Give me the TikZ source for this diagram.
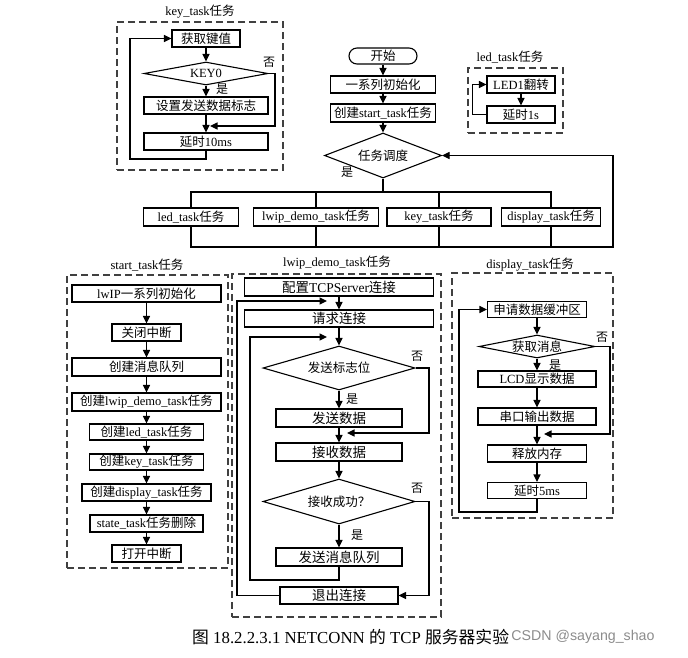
\documentclass[tikz,border=0pt]{standalone}
\usepackage{fontspec}
\setmainfont{Liberation Serif}
\newfontfamily\cjk{Noto Sans CJK SC}
\newfontfamily\wmfont{Liberation Sans}
\newcommand\zh[1]{{\cjk #1}}
\usetikzlibrary{arrows.meta,shapes.geometric}
\begin{document}
\begin{tikzpicture}[x=1pt,y=-1pt,
 every node/.style={font=\fontsize{12.5}{14}\selectfont},
 box/.style={draw,line width=1.1pt,inner sep=0pt,minimum height=17pt},
 bigt/.style={font=\fontsize{13.5}{15}\selectfont},
 dia/.style={draw,diamond,line width=1.1pt,inner sep=0pt},
 frame/.style={draw=black!75,line width=1.2pt,dash pattern=on 7pt off 4pt,inner sep=0pt},
 ln/.style={line width=1.1pt},
 arr/.style={line width=1.1pt,-{Triangle[length=7.5pt,width=7pt]}},
 lbl/.style={inner sep=0pt,font=\fontsize{12}{14}\selectfont\cjk},
 ttl/.style={inner sep=0pt}]
\useasboundingbox[fill=white] (0,0) rectangle (688,657);

% ---------- key_task ----------
\node[ttl] (tkey) at (200,12) {key\_task\zh{任务}};
\node[frame,minimum width=166pt,minimum height=148pt] (fkey) at (200,96) {};
\node[box,minimum width=68pt] (kget) at (206,38.5) {\zh{获取键值}};
\node[dia,minimum width=124pt,minimum height=23pt,shape aspect=5.4] (kdia) at (206,73.5) {KEY0};
\node[box,minimum width=124pt] (kset) at (206,105.5) {\zh{设置发送数据标志}};
\node[box,minimum width=124pt] (kdel) at (206,141.5) {\zh{延时}10ms};
\node[lbl] (kyes) at (222,89) {是};
\node[lbl] (kno) at (269,62) {否};
\coordinate (kno1) at (275,73.5);
\coordinate (kno2) at (210,126);
\coordinate (kbk) at (130,159);
\draw[arr] (kget) -- (kdia);
\draw[arr] (kdia) -- (kset);
\draw[arr] (kset) -- (kdel);
\draw[arr] (kdia.east) -- (kno1) |- (kno2);
\draw[arr] (kdel.south) |- (kbk) |- (kget.west);

% ---------- main flow ----------
\node[draw,line width=1.1pt,rounded corners=8pt,minimum width=68pt,minimum height=16pt,inner sep=0pt] (start) at (383,56) {\zh{开始}};
\node[box,minimum width=105pt] (init) at (383,84.5) {\zh{一系列初始化}};
\node[box,minimum width=105pt,minimum height=18pt] (cst) at (383,113) {\zh{创建}start\_task\zh{任务}};
\node[dia,minimum width=117pt,minimum height=45pt,shape aspect=2.6] (sch) at (383,155.5) {\zh{任务调度}};
\node[lbl] (syes) at (347,172) {是};
\draw[arr] (start) -- (init);
\draw[arr] (init) -- (cst);
\draw[arr] (cst) -- (sch);

\node[box,minimum width=95pt,minimum height=18pt] (mled) at (191,217) {led\_task\zh{任务}};
\node[box,minimum width=125pt,minimum height=18pt] (mlwip) at (316,217) {lwip\_demo\_task\zh{任务}};
\node[box,minimum width=104pt,minimum height=18pt] (mkey) at (439,217) {key\_task\zh{任务}};
\node[box,minimum width=99pt,minimum height=18pt] (mdisp) at (551,217) {display\_task\zh{任务}};
\coordinate (bus) at (383,192);
\coordinate (fb) at (613,247);
\draw[line width=2pt] (sch.south) -- (bus);
\draw[ln] (mled.north) |- (bus) -| (mdisp.north);
\draw[ln] (mlwip.north) -- (mlwip.north |- bus);
\draw[ln] (mkey.north) -- (mkey.north |- bus);
\draw[arr] (mled.south) |- (fb) |- (sch.east);
\draw[ln] (mlwip.south) -- (mlwip.south |- fb);
\draw[ln] (mkey.south) -- (mkey.south |- fb);
\draw[ln] (mdisp.south) -- (mdisp.south |- fb);

% ---------- led_task ----------
\node[ttl] (tled) at (510,57) {led\_task\zh{任务}};
\node[frame,minimum width=95pt,minimum height=65pt] (fled) at (515.5,100.5) {};
\node[box,minimum width=68pt] (led1) at (521,84.5) {LED1\zh{翻转}};
\node[box,minimum width=68pt] (ldel) at (521,114.5) {\zh{延时}1s};
\draw[arr] (led1) -- (ldel);
\draw[arr] (ldel.west) -- ++(-14,0) |- (led1.west);

% ---------- start_task ----------
\node[ttl] (tst) at (147,265) {start\_task\zh{任务}};
\node[frame,minimum width=161pt,minimum height=293pt] (fst) at (147.5,421.5) {};
\node[box,minimum width=149pt] (s1) at (146.5,293.5) {lwIP\zh{一系列初始化}};
\node[box,minimum width=69pt] (s2) at (146.5,332.5) {\zh{关闭中断}};
\node[box,minimum width=149pt,minimum height=18pt] (s3) at (146.5,367) {\zh{创建消息队列}};
\node[box,minimum width=149pt,minimum height=18pt] (s4) at (146.5,402) {\zh{创建}lwip\_demo\_task\zh{任务}};
\node[box,minimum width=114pt,minimum height=16pt] (s5) at (146.5,432) {\zh{创建}led\_task\zh{任务}};
\node[box,minimum width=114pt,minimum height=16pt] (s6) at (146.5,462) {\zh{创建}key\_task\zh{任务}};
\node[box,minimum width=129pt] (s7) at (146.5,492.5) {\zh{创建}display\_task\zh{任务}};
\node[box,minimum width=113pt] (s8) at (146.5,523.5) {state\_task\zh{任务删除}};
\node[box,minimum width=69pt] (s9) at (146.5,553.5) {\zh{打开中断}};
\foreach \a/\b in {s1/s2,s2/s3,s3/s4,s4/s5,s5/s6,s6/s7,s7/s8,s8/s9}
  \draw[arr] (\a) -- (\b);

% ---------- lwip_demo_task ----------
\node[ttl] (tlw) at (337,263) {lwip\_demo\_task\zh{任务}};
\node[frame,minimum width=209pt,minimum height=343pt] (flw) at (336.5,445.5) {};
\node[box,bigt,minimum width=189pt,minimum height=18pt] (l1) at (339,287) {\zh{配置}TCPServer\zh{连接}};
\node[box,bigt,minimum width=189pt] (l2) at (339,318.5) {\zh{请求连接}};
\node[dia,minimum width=152pt,minimum height=44pt,shape aspect=3.45] (ld1) at (339,368) {\zh{发送标志位}};
\node[box,bigt,minimum width=126pt,minimum height=18pt] (l3) at (339,418) {\zh{发送数据}};
\node[box,bigt,minimum width=126pt,minimum height=18pt] (l4) at (339,452) {\zh{接收数据}};
\node[dia,minimum width=152pt,minimum height=45pt,shape aspect=3.4] (ld2) at (339,501.5) {\zh{接收成功？}};
\node[box,bigt,minimum width=126pt,minimum height=18pt] (l5) at (339,557) {\zh{发送消息队列}};
\node[box,bigt,minimum width=118pt] (l6) at (339,595.5) {\zh{退出连接}};
\node[lbl] (lno1) at (417,356) {否};
\node[lbl] (lyes1) at (352,399) {是};
\node[lbl] (lno2) at (417,488) {否};
\node[lbl] (lyes2) at (357,535) {是};
\draw[arr] (l1) -- (l2);
\draw[arr] (l2) -- (ld1);
\draw[arr] (ld1) -- (l3);
\draw[arr] (l3) -- (l4);
\draw[arr] (l4) -- (ld2);
\draw[arr] (ld2) -- (l5);
\coordinate (oL) at (237,301);
\coordinate (oR) at (327,301);
\draw[arr] (l6.west) -| (oL) -- (oR);
\coordinate (iB) at (339,580);
\coordinate (iL) at (250,337);
\coordinate (iR) at (327,337);
\draw[arr] (l5.south) -- (iB) -| (iL) -- (iR);
\coordinate (n1) at (429,368);
\coordinate (n1e) at (347,433);
\draw[arr] (ld1.east) -- (n1) |- (n1e);
\coordinate (n2) at (429,501.5);
\draw[arr] (ld2.east) -- (n2) |- (l6.east);

% ---------- display_task ----------
\node[ttl] (tdi) at (530,265) {display\_task\zh{任务}};
\node[frame,minimum width=161pt,minimum height=245pt] (fdi) at (532.5,395.5) {};
\node[box,minimum width=99pt,minimum height=16pt] (d1) at (537,309.5) {\zh{申请数据缓冲区}};
\node[dia,minimum width=116pt,minimum height=23pt,shape aspect=5] (dd) at (537,346.5) {\zh{获取消息}};
\node[box,minimum width=118pt,minimum height=16pt] (d2) at (537,379) {LCD\zh{显示数据}};
\node[box,minimum width=118pt] (d3) at (537,416.5) {\zh{串口输出数据}};
\node[box,minimum width=99pt] (d4) at (537,453.5) {\zh{释放内存}};
\node[box,minimum width=99pt,minimum height=16pt] (d5) at (537,490.5) {\zh{延时}5ms};
\node[lbl] (dno) at (602,337) {否};
\node[lbl] (dyes) at (555,365) {是};
\draw[arr] (d1) -- (dd);
\draw[arr] (dd) -- (d2);
\draw[arr] (d2) -- (d3);
\draw[arr] (d3) -- (d4);
\draw[arr] (d4) -- (d5);
\coordinate (dn) at (610,346.5);
\coordinate (dne) at (544,434);
\draw[arr] (dd.east) -- (dn) |- (dne);
\coordinate (dbk) at (459,512);
\draw[arr] (d5.south) |- (dbk) |- (d1.west);

% ---------- caption ----------
\node[anchor=west,inner sep=0pt,font=\fontsize{16.8}{18}\selectfont] (cap) at (192,637) {\zh{图} 18.2.2.3.1 NETCONN \zh{的} TCP \zh{服务器实验}};
\node[anchor=west,inner sep=0pt,font=\wmfont\fontsize{14.2}{16}\selectfont,text=black!45] (wm) at ([xshift=2pt]cap.east) {CSDN @sayang\_shao};
\end{tikzpicture}
\end{document}
